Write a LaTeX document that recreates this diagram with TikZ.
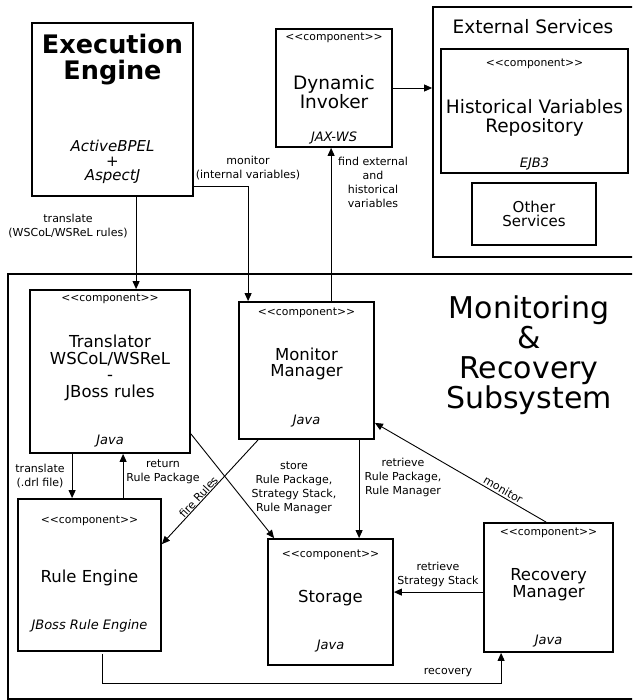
\documentclass[tikz,border=0pt]{standalone}
\usepackage{fontspec}
\setmainfont{DejaVu Sans}
\usetikzlibrary{arrows.meta,calc}
\newcommand\compname{<\kern0pt<component>\kern0pt>}
\begin{document}
\begin{tikzpicture}[x=1pt,y=-1pt,
  box/.style={draw,line width=1.8pt,inner sep=0pt},
  arr/.style={line width=0.9pt,-{Triangle[length=8pt,width=7pt]}},
  comp/.style={font=\fontsize{10.8pt}{12pt}\selectfont,inner sep=0pt},
  ttl/.style={font=\fontsize{16.5pt}{16.7pt}\selectfont,align=center,inner sep=0pt},
  bigttl/.style={font=\fontsize{18.5pt}{19pt}\selectfont,align=center,inner sep=0pt},
  tech/.style={font=\fontsize{13pt}{15pt}\selectfont\itshape,inner sep=0pt},
  lbl/.style={font=\fontsize{11pt}{14pt}\selectfont,align=center,inner sep=0pt}]
\clip (0,0) rectangle (632,700);
\fill[white] (0,0) rectangle (632,700);

% boxes
\node[box,minimum width=161pt,minimum height=173pt] (ee) at (112.5,109.5) {};
\node[box,minimum width=116pt,minimum height=118pt] (di) at (334,88) {};
\node[box,minimum width=227pt,minimum height=250pt] (ext) at (546.5,132) {};
\node[box,minimum width=187pt,minimum height=124pt] (hvr) at (534.5,111) {};
\node[box,minimum width=124pt,minimum height=62pt] (os) at (534,214) {};
\node[box,minimum width=652pt,minimum height=424.5pt] (sub) at (334,486.5) {};
\node[box,minimum width=160pt,minimum height=163pt] (tr) at (110,371.5) {};
\node[box,minimum width=135pt,minimum height=137pt] (mm) at (306.5,370.5) {};
\node[box,minimum width=143pt,minimum height=152pt] (re) at (89.5,575) {};
\node[box,minimum width=125pt,minimum height=126pt] (st) at (330.5,602) {};
\node[box,minimum width=129pt,minimum height=129pt] (rm) at (548.5,587.5) {};

% texts
\node[font=\fontsize{25.5pt}{26pt}\selectfont\bfseries,align=center,inner sep=0pt] (eet) at (112.5,60) {Execution\\Engine};
\node[font=\fontsize{15pt}{14.3pt}\selectfont\itshape,align=center,inner sep=0pt] (eei) at (112.5,162) {ActiveBPEL\\+\\AspectJ};

\node[comp] (dic) at (334,38) {\compname};
\node[bigttl] (dit) at (334,92) {Dynamic\\Invoker};
\node[tech] (dii) at (334,138) {JAX-WS};

\node[bigttl] (extt) at (533,27) {External Services};
\node[comp] (hvrc) at (534.5,64) {\compname};
\node[bigttl] (hvrt) at (534.5,118) {Historical Variables\\Repository};
\node[tech] (hvri) at (534.5,164) {EJB3};
\node[font=\fontsize{15pt}{14.5pt}\selectfont,align=center,inner sep=0pt] (ost) at (534,214) {Other\\Services};

\node[comp] (trc) at (110,299) {\compname};
\node[ttl] (trt) at (110,368) {Translator\\WSCoL/WSReL\\-\\JBoss rules};
\node[tech] (tri) at (110,441) {Java};

\node[comp] (mmc) at (306.5,313) {\compname};
\node[ttl] (mmt) at (306.5,364) {Monitor\\Manager};
\node[tech] (mmi) at (306.5,421) {Java};

\node[font=\fontsize{30pt}{30pt}\selectfont,align=center,inner sep=0pt] (subt) at (529,355) {Monitoring\\\&\\Recovery\\Subsystem};

\node[comp] (rec) at (89.5,521) {\compname};
\node[ttl] (ret) at (89.5,578) {Rule Engine};
\node[tech] (rei) at (89.5,626) {JBoss Rule Engine};

\node[comp] (stc) at (330.5,555) {\compname};
\node[ttl] (stt) at (330.5,598) {Storage};
\node[tech] (sti) at (330.5,646) {Java};

\node[comp] (rmc) at (548.5,533) {\compname};
\node[ttl] (rmt) at (548.5,585) {Recovery\\Manager};
\node[tech] (rmi) at (548.5,641) {Java};

% connectors
\coordinate (c1) at ($(ee.south west)+(105,0)$);
\draw[arr] (c1) -- (c1 |- tr.north);
\node[lbl] (l1) at (68,226) {translate\\(WSCoL/WSReL rules)};

\coordinate (c2) at ($(ee.south east)+(0,-10)$);
\coordinate (c3) at ($(mm.north west)+(10,0)$);
\draw[arr] (c2) -| (c3);
\node[lbl] (l2) at (248,168) {monitor\\(internal variables)};

\coordinate (c4) at ($(mm.north west)+(93,0)$);
\draw[arr] (c4) -- (c4 |- di.south);
\node[lbl] (l3) at (373,182) {find external\\and\\historical\\variables};

\draw[arr] (di.east) -- (di.east -| ext.west);

\coordinate (c5) at ($(tr.south west)+(43,0)$);
\draw[arr] (c5) -- (c5 |- re.north);
\node[lbl] (l4) at (40,476) {translate\\(.drl file)};

\coordinate (c6) at ($(re.north west)+(106,0)$);
\draw[arr] (c6) -- (c6 |- tr.south);
\node[lbl] (l5) at (163,472) {return\\Rule Package};

\coordinate (c7a) at ($(tr.south east)+(0,-20)$);
\coordinate (c7b) at ($(st.north west)+(7,0)$);
\draw[arr] (c7a) -- (c7b);
\node[lbl] (l6) at (294,488) {store\\Rule Package,\\Strategy Stack,\\Rule Manager};

\coordinate (c8a) at ($(mm.south west)+(20,0)$);
\coordinate (c8b) at ($(re.north east)+(0,46)$);
\draw[arr] (c8a) -- (c8b) node[lbl,pos=0.58,sloped,above=0.5pt] (l7) {fire Rules};

\coordinate (c9) at ($(mm.south west)+(121,0)$);
\draw[arr] (c9) -- (c9 |- st.north);
\node[lbl] (l8) at (403,477) {retrieve\\Rule Package,\\Rule Manager};

\coordinate (c10a) at ($(rm.north west)+(63,0)$);
\coordinate (c10b) at ($(mm.south east)+(0,-17)$);
\draw[arr] (c10a) -- (c10b) node[lbl,pos=0.27,sloped,above=2pt] (l9) {monitor};

\coordinate (c11) at ($(rm.north west)+(0,70)$);
\draw[arr] (c11) -- (c11 -| st.east);
\node[lbl] (l10) at (438,574) {retrieve\\Strategy Stack};

\coordinate (c12a) at ($(re.south west)+(85,2)$);
\coordinate (c12b) at ($(rm.south west)+(18,0)$);
\draw[arr] (c12a) -- ++(0,30) -| (c12b);
\node[lbl] (l11) at (448,673) {recovery};
\end{tikzpicture}
\end{document}
